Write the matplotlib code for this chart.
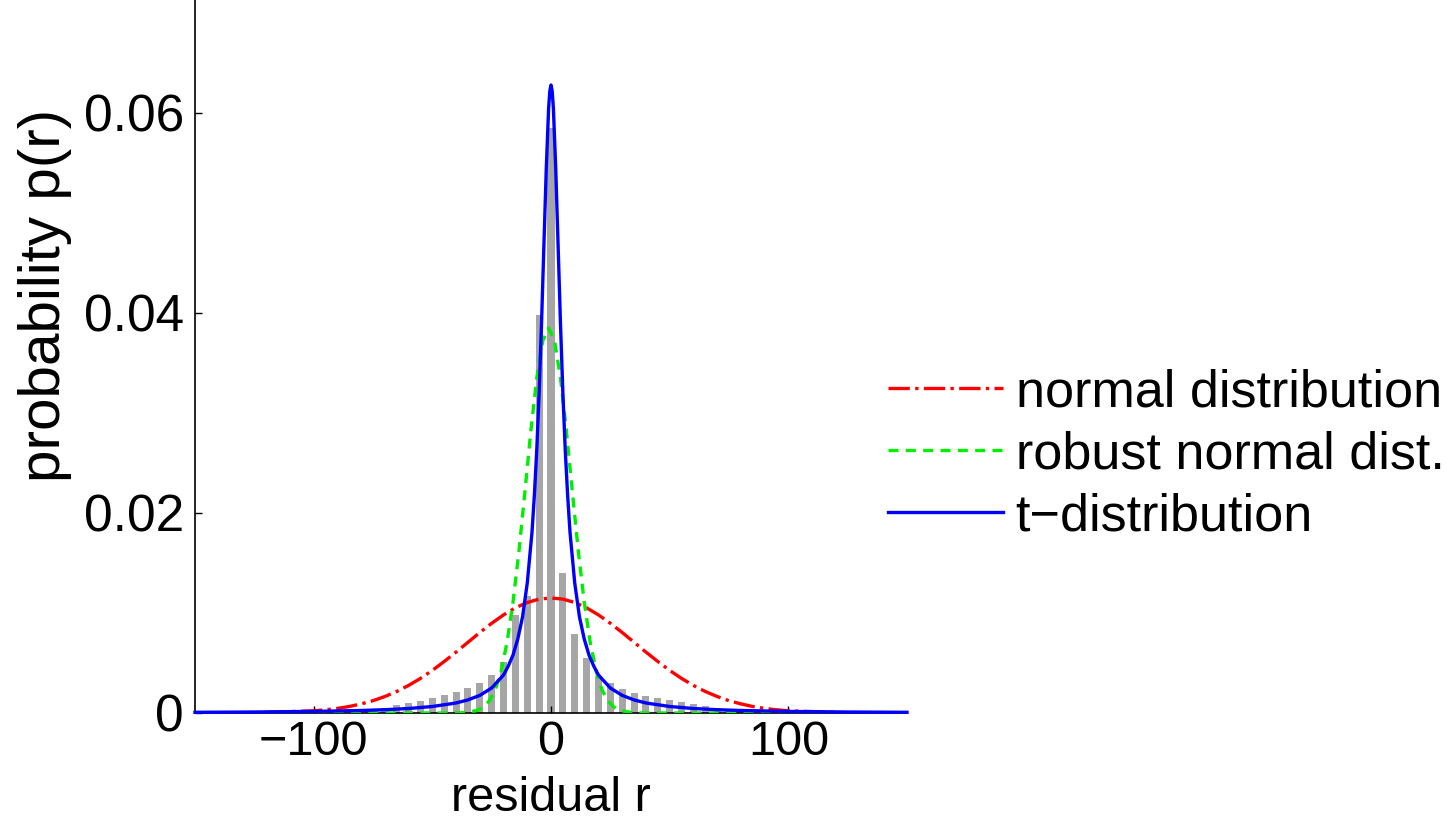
import matplotlib
matplotlib.use("Agg")
import matplotlib.pyplot as plt

plt.rcParams['font.family'] = ['Liberation Sans', 'DejaVu Sans']

# histogram of residuals (bin centres, bar heights)
bin_centers = [-75, -70, -65, -60, -55, -50, -45, -40, -35, -30, -25, -20, -15, -10, -5, 0,
               5, 10, 15, 20, 25, 30, 35, 40, 45, 50, 55, 60, 65, 70, 75, 80]
bin_heights = [0.0003, 0.0005, 0.0008, 0.0010, 0.0012, 0.0015, 0.0018, 0.0021, 0.0025, 0.0030,
               0.0038, 0.0051, 0.0098, 0.0117, 0.0398, 0.0585,
               0.0140, 0.0079, 0.0055, 0.0037, 0.0030, 0.0024, 0.0020, 0.0017, 0.0015, 0.0013,
               0.0011, 0.0009, 0.0007, 0.0005, 0.0004, 0.0002]

# normal distribution
normal_x = [-150, -125, -100, -95, -90, -85, -80, -75, -70, -65, -60, -55, -50, -45, -40, -35,
            -30, -25, -20, -15, -10, -5, 0, 5, 10, 15, 20, 25, 30, 35, 40, 45, 50, 55, 60, 65,
            70, 75, 80, 85, 90, 95, 100, 125, 150]
normal_y = [0.0, 0.00002, 0.00022, 0.00032, 0.00046, 0.00065, 0.00091, 0.00123, 0.00165, 0.00215,
            0.00276, 0.00346, 0.00426, 0.00515, 0.00609, 0.00707, 0.00805, 0.00897, 0.00981,
            0.01052, 0.01105, 0.01139, 0.01150, 0.01139, 0.01105, 0.01052, 0.00981, 0.00897,
            0.00805, 0.00707, 0.00609, 0.00515, 0.00426, 0.00346, 0.00276, 0.00215, 0.00165,
            0.00123, 0.00091, 0.00065, 0.00046, 0.00032, 0.00022, 0.00002, 0.0]

# robust normal distribution
robust_x = [-150, -41, -36, -31, -28.5, -26, -23.5, -21, -18.5, -16, -13.5, -11, -8.5, -6, -3.5, -1,
            1.5, 4, 6.5, 9, 11.5, 14, 16.5, 19, 21.5, 24, 26.5, 29, 34, 39, 150]
robust_y = [0.0, 0.0, 0.00004, 0.00026, 0.0006, 0.0012, 0.0023, 0.0042, 0.0071, 0.0111, 0.0162,
            0.0221, 0.0282, 0.0335, 0.0372, 0.0385, 0.0372, 0.0335, 0.0282, 0.0221, 0.0162,
            0.0111, 0.0071, 0.0042, 0.0023, 0.0012, 0.0006, 0.00026, 0.00004, 0.0, 0.0]

# t-distribution
t_x = [-150, -125, -100, -80, -70, -60, -50, -40, -35, -30, -25, -20, -18, -16, -14, -12, -10,
       -8, -7, -6, -5, -4, -3, -2, -1, -0.5, 0, 0.5, 1, 2, 3, 4, 5, 6, 7, 8, 10, 12, 14, 16, 18,
       20, 25, 30, 35, 40, 50, 60, 70, 80, 100, 125, 150]
t_y = [0.00007, 0.00010, 0.00016, 0.00025, 0.00033, 0.00045, 0.00065, 0.00100, 0.00131, 0.00176,
       0.0025, 0.0038, 0.0047, 0.0058, 0.0074, 0.0096, 0.0130, 0.0181, 0.0218, 0.0263, 0.0320,
       0.0389, 0.0467, 0.0544, 0.0605, 0.0622, 0.0628, 0.0622, 0.0605, 0.0544, 0.0467, 0.0389,
       0.0320, 0.0263, 0.0218, 0.0181, 0.0130, 0.0096, 0.0074, 0.0058, 0.0047, 0.0038, 0.0025,
       0.00176, 0.00131, 0.00100, 0.00065, 0.00045, 0.00033, 0.00025, 0.00016, 0.00010, 0.00007]

labels = ['normal distribution', 'robust normal dist.', 't\u2212distribution']

fig = plt.figure(figsize=(14.51, 8.23), dpi=100)
ax = fig.add_axes([195 / 1451, 110 / 823, 712 / 1451, 713 / 823])

ax.bar(bin_centers, bin_heights, width=3.0, color='#a6a6a6', linewidth=0, zorder=1)
ax.plot(normal_x, normal_y, color='red', linestyle='-.', linewidth=2.4, label=labels[0], zorder=3)
ax.plot(robust_x, robust_y, color='#00ee00', linestyle=(0, (3, 2.2)), linewidth=2.4,
        label=labels[1], zorder=3)
ax.plot(t_x, t_y, color='#0000ff', linewidth=2.4, label=labels[2], zorder=4, clip_on=False)

ax.set_xlim(-150, 150)
ax.set_ylim(0, 0.0713)
ax.set_xticks([-100, 0, 100])
ax.set_yticks([0, 0.02, 0.04, 0.06])
ax.set_yticklabels(['0', '0.02', '0.04', '0.06'])
ax.tick_params(direction='in', length=5, width=1, labelsize=37)
ax.tick_params(axis='x', labelsize=35, pad=5)
ax.tick_params(axis='y', pad=8)
for s in ['top', 'right']:
    ax.spines[s].set_visible(False)
for s in ['left', 'bottom']:
    ax.spines[s].set_linewidth(1.2)

ax.set_xlabel('residual r', fontsize=35)
ax.set_ylabel('probability p(r)', fontsize=42)
ax.xaxis.set_label_coords(0.5, (713 - 811) / 713)
ax.xaxis.label.set_va('baseline')
ax.yaxis.set_label_coords((45 - 195) / 712, (713 - 295) / 713)
ax.yaxis.label.set_va('center')

ax.legend(loc='center left', bbox_to_anchor=(888 / 1451, 1 - 455 / 823),
          bbox_transform=fig.transFigure, frameon=False, fontsize=37.5,
          handlelength=2.2, handletextpad=0.25, labelspacing=0.25, borderpad=0,
          borderaxespad=0)

fig.savefig('out.png', dpi=100)
